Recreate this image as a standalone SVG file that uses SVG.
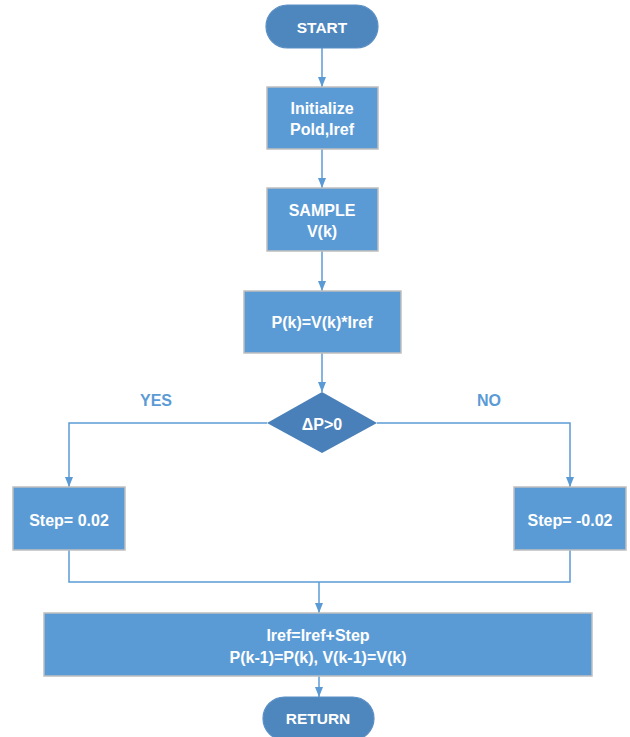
<svg xmlns="http://www.w3.org/2000/svg" width="630" height="737" viewBox="0 0 630 737">
<defs>
<marker id="arr" markerWidth="10" markerHeight="8" refX="10" refY="4" orient="auto" markerUnits="userSpaceOnUse">
<path d="M0,0 L10,4 L0,8 Z" fill="#5B9BD5"/>
</marker>
<style>
.box{fill:#5B9BD5;stroke:#BFBFBF;stroke-width:1.5}
.term{fill:#4E86BE;stroke:#5B8FC4;stroke-width:1.2}
.dia{fill:#4A80B9}
.t{font-family:"Liberation Sans",Arial,sans-serif;font-weight:bold;font-size:16px;fill:#FFFFFF;text-anchor:middle;dominant-baseline:central}
.tc{font-size:15.5px}
.lbl{font-family:"Liberation Sans",Arial,sans-serif;font-weight:bold;font-size:16px;fill:#5B9BD5;text-anchor:middle;dominant-baseline:central}
.c{fill:none;stroke:#5B9BD5;stroke-width:1.5}
</style>
</defs>
<rect width="630" height="737" fill="#FFFFFF"/>
<g id="connectors">
<path class="c" d="M322,48 V87" marker-end="url(#arr)"/>
<path class="c" d="M322,149 V188" marker-end="url(#arr)"/>
<path class="c" d="M322,251 V291" marker-end="url(#arr)"/>
<path class="c" d="M322,353 V392" marker-end="url(#arr)"/>
<path class="c" d="M267,423 H69 V487" marker-end="url(#arr)"/>
<path class="c" d="M377,423 H570 V487" marker-end="url(#arr)"/>
<path class="c" d="M69,550 V582 H570 V550"/>
<path class="c" d="M319,582 V613" marker-end="url(#arr)"/>
<path class="c" d="M319,676 V697" marker-end="url(#arr)"/>
</g>
<g id="start">
<rect class="term" x="266" y="5" width="112" height="43" rx="21.5"/>
<text class="t tc" x="322" y="27">START</text>
</g>
<g id="init">
<rect class="box" x="267" y="87" width="111" height="62"/>
<text class="t" x="322" y="108">Initialize</text>
<text class="t" x="322" y="129">Pold,Iref</text>
</g>
<g id="sample">
<rect class="box" x="267" y="188" width="111" height="63"/>
<text class="t" x="322" y="210">SAMPLE</text>
<text class="t" x="322" y="231">V(k)</text>
</g>
<g id="power">
<rect class="box" x="244" y="291" width="157" height="62"/>
<text class="t" x="322" y="322">P(k)=V(k)*Iref</text>
</g>
<g id="decision">
<polygon class="dia" points="322,392 377,423 322,453 267,423"/>
<text class="t" x="322" y="424">ΔP&gt;0</text>
</g>
<g id="yes-label"><text class="lbl" x="156" y="400">YES</text></g>
<g id="no-label"><text class="lbl" x="489" y="400">NO</text></g>
<g id="step-pos">
<rect class="box" x="13" y="487" width="112" height="63"/>
<text class="t" x="69" y="520">Step= 0.02</text>
</g>
<g id="step-neg">
<rect class="box" x="514" y="487" width="112" height="63"/>
<text class="t" x="570" y="520">Step= -0.02</text>
</g>
<g id="update">
<rect class="box" x="44" y="613" width="548" height="63"/>
<text class="t" x="318" y="635">Iref=Iref+Step</text>
<text class="t" x="318" y="657">P(k-1)=P(k), V(k-1)=V(k)</text>
</g>
<g id="return">
<rect class="term" x="263" y="697" width="111" height="43" rx="21.5"/>
<text class="t tc" x="318" y="718">RETURN</text>
</g>
</svg>
